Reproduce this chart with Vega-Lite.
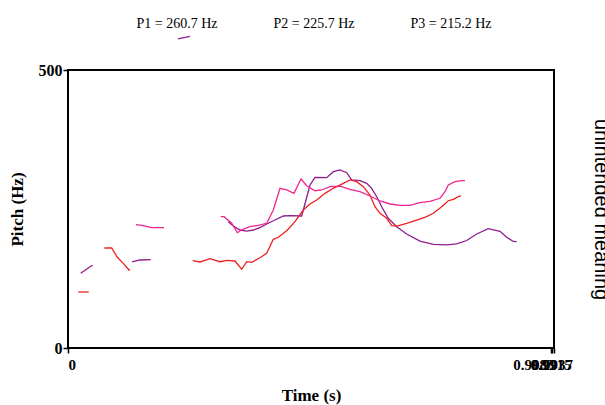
{
  "$schema": "https://vega.github.io/schema/vega-lite/v6.json",
  "width": 486,
  "height": 278,
  "autosize": {"type": "none"},
  "padding": {"left": 68, "top": 70, "right": 51, "bottom": 57},
  "background": "white",
  "title": {
    "text": "P1 = 260.7 Hz\u00a0\u00a0\u00a0\u00a0\u00a0\u00a0\u00a0\u00a0\u00a0\u00a0\u00a0\u00a0\u00a0\u00a0\u00a0\u00a0P2 = 225.7 Hz\u00a0\u00a0\u00a0\u00a0\u00a0\u00a0\u00a0\u00a0\u00a0\u00a0\u00a0\u00a0\u00a0\u00a0\u00a0\u00a0P3 = 215.2 Hz",
    "font": "Liberation Serif",
    "fontSize": 14,
    "fontWeight": "normal",
    "color": "black",
    "anchor": "middle",
    "baseline": "alphabetic",
    "offset": -8,
    "dx": 3
  },
  "config": {
    "view": {"stroke": "black", "strokeWidth": 2},
    "axis": {
      "domain": false,
      "grid": false,
      "tickColor": "black",
      "tickWidth": 1.5,
      "tickSize": 5,
      "labelFont": "Liberation Serif",
      "labelFontSize": 16,
      "labelFontWeight": "bold",
      "labelColor": "black",
      "titleFont": "Liberation Serif",
      "titleFontSize": 17,
      "titleFontWeight": "bold",
      "titleColor": "black"
    }
  },
  "datasets": {
    "pitch": [
      {"speaker": "P1", "seg": "P1a", "t": 0.0261, "hz": 134.4},
      {"speaker": "P1", "seg": "P1a", "t": 0.0452, "hz": 146.2},
      {"speaker": "P1", "seg": "P1a", "t": 0.0507, "hz": 148.7},
      {"speaker": "P1", "seg": "P1b", "t": 0.1315, "hz": 154.7},
      {"speaker": "P1", "seg": "P1b", "t": 0.1479, "hz": 158.3},
      {"speaker": "P1", "seg": "P1b", "t": 0.1699, "hz": 158.8},
      {"speaker": "P1", "seg": "P1s", "t": 0.2260, "hz": 555.8},
      {"speaker": "P1", "seg": "P1s", "t": 0.2506, "hz": 560.3},
      {"speaker": "P1", "seg": "P1c", "t": 0.3293, "hz": 227.2},
      {"speaker": "P1", "seg": "P1c", "t": 0.3395, "hz": 219.4},
      {"speaker": "P1", "seg": "P1c", "t": 0.3533, "hz": 212.2},
      {"speaker": "P1", "seg": "P1c", "t": 0.3671, "hz": 210.4},
      {"speaker": "P1", "seg": "P1c", "t": 0.3806, "hz": 212.2},
      {"speaker": "P1", "seg": "P1c", "t": 0.3944, "hz": 216.4},
      {"speaker": "P1", "seg": "P1c", "t": 0.4081, "hz": 223.0},
      {"speaker": "P1", "seg": "P1c", "t": 0.4252, "hz": 230.2},
      {"speaker": "P1", "seg": "P1c", "t": 0.4422, "hz": 237.4},
      {"speaker": "P1", "seg": "P1c", "t": 0.4560, "hz": 238.0},
      {"speaker": "P1", "seg": "P1c", "t": 0.4800, "hz": 237.4},
      {"speaker": "P1", "seg": "P1c", "t": 0.4889, "hz": 266.2},
      {"speaker": "P1", "seg": "P1c", "t": 0.4971, "hz": 293.2},
      {"speaker": "P1", "seg": "P1c", "t": 0.5074, "hz": 307.0},
      {"speaker": "P1", "seg": "P1c", "t": 0.5314, "hz": 306.3},
      {"speaker": "P1", "seg": "P1c", "t": 0.5450, "hz": 317.1},
      {"speaker": "P1", "seg": "P1c", "t": 0.5587, "hz": 320.2},
      {"speaker": "P1", "seg": "P1c", "t": 0.5725, "hz": 315.3},
      {"speaker": "P1", "seg": "P1c", "t": 0.5827, "hz": 302.2},
      {"speaker": "P1", "seg": "P1c", "t": 0.5998, "hz": 300.9},
      {"speaker": "P1", "seg": "P1c", "t": 0.6136, "hz": 296.2},
      {"speaker": "P1", "seg": "P1c", "t": 0.6238, "hz": 287.2},
      {"speaker": "P1", "seg": "P1c", "t": 0.6341, "hz": 272.1},
      {"speaker": "P1", "seg": "P1c", "t": 0.6444, "hz": 254.1},
      {"speaker": "P1", "seg": "P1c", "t": 0.6579, "hz": 233.3},
      {"speaker": "P1", "seg": "P1c", "t": 0.6752, "hz": 218.2},
      {"speaker": "P1", "seg": "P1c", "t": 0.6957, "hz": 205.0},
      {"speaker": "P1", "seg": "P1c", "t": 0.7230, "hz": 192.4},
      {"speaker": "P1", "seg": "P1c", "t": 0.7504, "hz": 186.5},
      {"speaker": "P1", "seg": "P1c", "t": 0.7779, "hz": 185.3},
      {"speaker": "P1", "seg": "P1c", "t": 0.7984, "hz": 187.1},
      {"speaker": "P1", "seg": "P1c", "t": 0.8190, "hz": 193.3},
      {"speaker": "P1", "seg": "P1c", "t": 0.8395, "hz": 205.0},
      {"speaker": "P1", "seg": "P1c", "t": 0.8633, "hz": 214.6},
      {"speaker": "P1", "seg": "P1c", "t": 0.8874, "hz": 209.9},
      {"speaker": "P1", "seg": "P1c", "t": 0.9011, "hz": 199.1},
      {"speaker": "P1", "seg": "P1c", "t": 0.9147, "hz": 191.6},
      {"speaker": "P1", "seg": "P1c", "t": 0.9217, "hz": 191.2},
      {"speaker": "P2", "seg": "P2a", "t": 0.0212, "hz": 100.7},
      {"speaker": "P2", "seg": "P2a", "t": 0.0425, "hz": 100.7},
      {"speaker": "P2", "seg": "P2b", "t": 0.0746, "hz": 179.9},
      {"speaker": "P2", "seg": "P2b", "t": 0.0898, "hz": 179.9},
      {"speaker": "P2", "seg": "P2b", "t": 0.1013, "hz": 163.1},
      {"speaker": "P2", "seg": "P2b", "t": 0.1136, "hz": 152.3},
      {"speaker": "P2", "seg": "P2b", "t": 0.1253, "hz": 140.3},
      {"speaker": "P2", "seg": "P2b", "t": 0.1274, "hz": 140.3},
      {"speaker": "P2", "seg": "P2c", "t": 0.2561, "hz": 157.0},
      {"speaker": "P2", "seg": "P2c", "t": 0.2711, "hz": 154.7},
      {"speaker": "P2", "seg": "P2c", "t": 0.2917, "hz": 160.6},
      {"speaker": "P2", "seg": "P2c", "t": 0.3122, "hz": 155.2},
      {"speaker": "P2", "seg": "P2c", "t": 0.3260, "hz": 157.7},
      {"speaker": "P2", "seg": "P2c", "t": 0.3430, "hz": 156.5},
      {"speaker": "P2", "seg": "P2c", "t": 0.3568, "hz": 141.6},
      {"speaker": "P2", "seg": "P2c", "t": 0.3671, "hz": 155.2},
      {"speaker": "P2", "seg": "P2c", "t": 0.3773, "hz": 154.1},
      {"speaker": "P2", "seg": "P2c", "t": 0.3944, "hz": 162.4},
      {"speaker": "P2", "seg": "P2c", "t": 0.4081, "hz": 170.3},
      {"speaker": "P2", "seg": "P2c", "t": 0.4217, "hz": 195.5},
      {"speaker": "P2", "seg": "P2c", "t": 0.4320, "hz": 199.1},
      {"speaker": "P2", "seg": "P2c", "t": 0.4492, "hz": 211.0},
      {"speaker": "P2", "seg": "P2c", "t": 0.4663, "hz": 227.2},
      {"speaker": "P2", "seg": "P2c", "t": 0.4833, "hz": 248.2},
      {"speaker": "P2", "seg": "P2c", "t": 0.4971, "hz": 259.0},
      {"speaker": "P2", "seg": "P2c", "t": 0.5109, "hz": 266.2},
      {"speaker": "P2", "seg": "P2c", "t": 0.5279, "hz": 278.2},
      {"speaker": "P2", "seg": "P2c", "t": 0.5450, "hz": 287.2},
      {"speaker": "P2", "seg": "P2c", "t": 0.5655, "hz": 296.2},
      {"speaker": "P2", "seg": "P2c", "t": 0.5793, "hz": 302.2},
      {"speaker": "P2", "seg": "P2c", "t": 0.5930, "hz": 299.1},
      {"speaker": "P2", "seg": "P2c", "t": 0.6066, "hz": 290.1},
      {"speaker": "P2", "seg": "P2c", "t": 0.6203, "hz": 275.2},
      {"speaker": "P2", "seg": "P2c", "t": 0.6306, "hz": 254.1},
      {"speaker": "P2", "seg": "P2c", "t": 0.6409, "hz": 242.3},
      {"speaker": "P2", "seg": "P2c", "t": 0.6546, "hz": 233.3},
      {"speaker": "P2", "seg": "P2c", "t": 0.6649, "hz": 220.0},
      {"speaker": "P2", "seg": "P2c", "t": 0.6752, "hz": 219.4},
      {"speaker": "P2", "seg": "P2c", "t": 0.6957, "hz": 224.3},
      {"speaker": "P2", "seg": "P2c", "t": 0.7163, "hz": 230.2},
      {"speaker": "P2", "seg": "P2c", "t": 0.7368, "hz": 236.2},
      {"speaker": "P2", "seg": "P2c", "t": 0.7504, "hz": 242.3},
      {"speaker": "P2", "seg": "P2c", "t": 0.7676, "hz": 254.1},
      {"speaker": "P2", "seg": "P2c", "t": 0.7812, "hz": 264.9},
      {"speaker": "P2", "seg": "P2c", "t": 0.7914, "hz": 267.5},
      {"speaker": "P2", "seg": "P2c", "t": 0.8017, "hz": 272.1},
      {"speaker": "P2", "seg": "P2c", "t": 0.8073, "hz": 273.4},
      {"speaker": "P3", "seg": "P3a", "t": 0.1397, "hz": 221.8},
      {"speaker": "P3", "seg": "P3a", "t": 0.1514, "hz": 220.7},
      {"speaker": "P3", "seg": "P3a", "t": 0.1719, "hz": 216.4},
      {"speaker": "P3", "seg": "P3a", "t": 0.1972, "hz": 216.4},
      {"speaker": "P3", "seg": "P3b", "t": 0.3137, "hz": 236.2},
      {"speaker": "P3", "seg": "P3b", "t": 0.3204, "hz": 236.2},
      {"speaker": "P3", "seg": "P3b", "t": 0.3363, "hz": 224.3},
      {"speaker": "P3", "seg": "P3b", "t": 0.3478, "hz": 207.4},
      {"speaker": "P3", "seg": "P3b", "t": 0.3601, "hz": 214.0},
      {"speaker": "P3", "seg": "P3b", "t": 0.3738, "hz": 218.2},
      {"speaker": "P3", "seg": "P3b", "t": 0.3909, "hz": 220.7},
      {"speaker": "P3", "seg": "P3b", "t": 0.4081, "hz": 224.3},
      {"speaker": "P3", "seg": "P3b", "t": 0.4217, "hz": 248.2},
      {"speaker": "P3", "seg": "P3b", "t": 0.4355, "hz": 287.2},
      {"speaker": "P3", "seg": "P3b", "t": 0.4492, "hz": 284.2},
      {"speaker": "P3", "seg": "P3b", "t": 0.4642, "hz": 278.2},
      {"speaker": "P3", "seg": "P3b", "t": 0.4786, "hz": 304.0},
      {"speaker": "P3", "seg": "P3b", "t": 0.4903, "hz": 291.9},
      {"speaker": "P3", "seg": "P3b", "t": 0.5074, "hz": 282.9},
      {"speaker": "P3", "seg": "P3b", "t": 0.5211, "hz": 284.2},
      {"speaker": "P3", "seg": "P3b", "t": 0.5382, "hz": 290.1},
      {"speaker": "P3", "seg": "P3b", "t": 0.5587, "hz": 291.0},
      {"speaker": "P3", "seg": "P3b", "t": 0.5793, "hz": 285.4},
      {"speaker": "P3", "seg": "P3b", "t": 0.5998, "hz": 281.1},
      {"speaker": "P3", "seg": "P3b", "t": 0.6203, "hz": 273.4},
      {"speaker": "P3", "seg": "P3b", "t": 0.6409, "hz": 264.4},
      {"speaker": "P3", "seg": "P3b", "t": 0.6614, "hz": 259.0},
      {"speaker": "P3", "seg": "P3b", "t": 0.6820, "hz": 256.7},
      {"speaker": "P3", "seg": "P3b", "t": 0.7025, "hz": 256.7},
      {"speaker": "P3", "seg": "P3b", "t": 0.7230, "hz": 261.3},
      {"speaker": "P3", "seg": "P3b", "t": 0.7436, "hz": 263.9},
      {"speaker": "P3", "seg": "P3b", "t": 0.7641, "hz": 269.3},
      {"speaker": "P3", "seg": "P3b", "t": 0.7744, "hz": 281.1},
      {"speaker": "P3", "seg": "P3b", "t": 0.7812, "hz": 293.2},
      {"speaker": "P3", "seg": "P3b", "t": 0.7950, "hz": 299.1},
      {"speaker": "P3", "seg": "P3b", "t": 0.8087, "hz": 300.9},
      {"speaker": "P3", "seg": "P3b", "t": 0.8155, "hz": 300.9}
    ]
  },
  "data": {"name": "pitch"},
  "layer": [
    {
      "mark": {"type": "line", "strokeWidth": 1.3, "clip": false},
      "encoding": {
        "x": {
          "field": "t",
          "type": "quantitative",
          "scale": {"domain": [0, 0.9983], "nice": false, "zero": false},
          "axis": {
            "values": [0, 0.9915, 0.9937, 0.9983],
            "format": ".4~f",
            "labelOverlap": false,
            "labelFontSize": 15,
            "labelPadding": 4,
            "title": "Time (s)",
            "titlePadding": 15
          }
        },
        "y": {
          "field": "hz",
          "type": "quantitative",
          "scale": {"domain": [0, 500], "nice": false},
          "axis": {
            "values": [0, 500],
            "labelPadding": 1,
            "title": "Pitch (Hz)",
            "titlePadding": 12
          }
        },
        "color": {
          "field": "speaker",
          "type": "nominal",
          "scale": {"domain": ["P1", "P2", "P3"], "range": ["#8E1C8E", "#EE2020", "#F0268E"]},
          "legend": null
        },
        "detail": {"field": "seg"},
        "order": {"field": "t", "type": "quantitative"}
      }
    },
    {
      "mark": {"type": "line", "opacity": 0},
      "encoding": {
        "x": {"field": "t", "type": "quantitative"},
        "y": {
          "field": "hz",
          "type": "quantitative",
          "scale": {"domain": [0, 500], "nice": false},
          "axis": {
            "orient": "right",
            "labels": false,
            "ticks": false,
            "domain": false,
            "title": "unintended meaning",
            "titleAngle": 90,
            "titleFont": "Liberation Sans",
            "titleFontWeight": "normal",
            "titleFontSize": 20,
            "titlePadding": 36
          }
        },
        "detail": {"field": "seg"}
      }
    }
  ],
  "resolve": {"scale": {"y": "independent"}}
}
